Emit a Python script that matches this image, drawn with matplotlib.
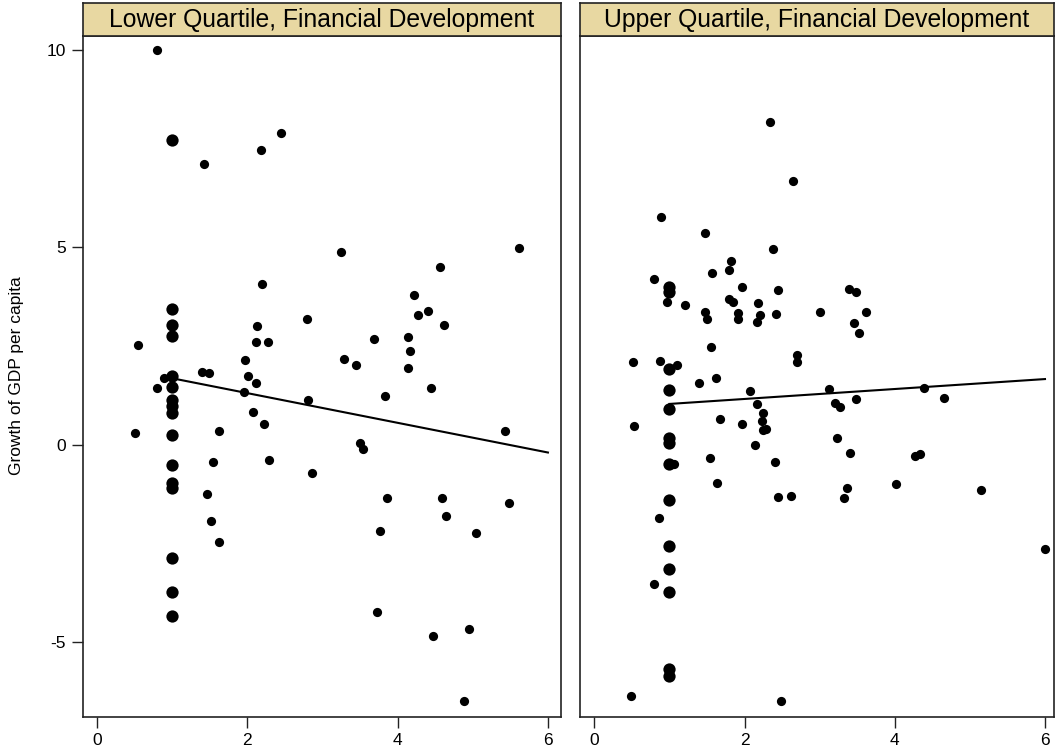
import numpy as np
import matplotlib
matplotlib.use("Agg")
import matplotlib.pyplot as plt

plt.rcParams['font.family'] = ['Liberation Sans', 'DejaVu Sans']
plt.rcParams['axes.unicode_minus'] = False

# panel titles / labels
titles = ["Lower Quartile, Financial Development", "Upper Quartile, Financial Development"]
ylabel = "Growth of GDP per capita"
xticks = [0, 2, 4, 6]
yticks = [-5, 0, 5, 10]

# lower quartile: scattered points
lower_x = [0.8, 2.45, 2.18, 1.43, 2.19, 0.54, 2.13, 2.8, 2.11, 2.28, 1.97, 1.40, 1.49, 2.01,
           3.25, 5.61, 4.56, 4.22, 4.41, 4.27, 4.62, 3.68, 4.14, 4.17, 3.29, 3.44, 4.14,
           0.89, 0.80, 0.50, 1.63, 1.55, 2.29, 2.86, 1.46, 1.52, 1.63, 2.12, 1.96, 2.08,
           2.22, 2.81, 4.44, 3.83, 5.43, 3.50, 3.54, 3.86, 4.59, 5.48, 4.65, 3.76, 5.04,
           3.73, 4.95, 4.47, 4.89]
lower_y = [10.0, 7.89, 7.45, 7.11, 4.07, 2.53, 3.0, 3.17, 2.61, 2.61, 2.15, 1.83, 1.81, 1.74,
           4.89, 4.99, 4.51, 3.78, 3.38, 3.27, 3.04, 2.67, 2.72, 2.37, 2.16, 2.02, 1.94,
           1.68, 1.43, 0.30, 0.34, -0.45, -0.38, -0.73, -1.26, -1.94, -2.46, 1.56, 1.32, 0.82,
           0.52, 1.14, 1.43, 1.22, 0.34, 0.04, -0.10, -1.36, -1.35, -1.49, -1.80, -2.20, -2.24,
           -4.23, -4.68, -4.84, -6.49]
# lower quartile: stacked observations at x = 1
lower_pile_y = [7.72, 3.43, 3.02, 2.75, 1.74, 1.47, 1.14, 0.97, 0.80, 0.25, -0.51, -0.98,
                -1.09, -2.86, -3.72, -4.33]
lower_fit_x = [1, 6]
lower_fit_y = [1.68, -0.20]

# upper quartile: scattered points
upper_x = [2.34, 2.64, 0.89, 1.48, 2.38, 1.82, 1.57, 1.79, 0.80, 1.97, 2.45, 3.0, 0.97, 1.21,
           1.80, 1.85, 2.18, 1.48, 1.50, 1.91, 1.91, 2.21, 2.17, 2.42, 1.55, 2.70, 2.70, 0.52,
           0.88, 1.10, 1.62, 3.39, 3.48, 3.62, 3.46, 3.52, 1.39, 2.07, 2.16, 0.53, 1.68, 1.96,
           2.24, 2.23, 2.24, 2.29, 2.14, 1.54, 2.40, 1.63, 2.44, 2.62, 0.86, 0.79, 0.49, 2.48,
           3.13, 4.39, 3.49, 4.65, 3.21, 3.27, 3.23, 3.41, 4.27, 4.34, 4.02, 3.36, 3.33, 5.15,
           6.0, 1.06]
upper_y = [8.16, 6.67, 5.77, 5.35, 4.96, 4.65, 4.35, 4.42, 4.19, 3.99, 3.91, 3.36, 3.62, 3.54,
           3.70, 3.61, 3.59, 3.36, 3.17, 3.33, 3.17, 3.28, 3.10, 3.30, 2.47, 2.27, 2.08, 2.10,
           2.13, 2.01, 1.68, 3.94, 3.86, 3.36, 3.07, 2.83, 1.56, 1.35, 1.02, 0.46, 0.66, 0.51,
           0.80, 0.61, 0.38, 0.40, 0.0, -0.35, -0.44, -0.98, -1.33, -1.29, -1.86, -3.53, -6.36,
           -6.48, 1.41, 1.44, 1.16, 1.19, 1.05, 0.94, 0.17, -0.20, -0.29, -0.24, -0.99, -1.09,
           -1.34, -1.14, -2.65, -0.50]
upper_pile_y = [4.0, 3.87, 1.91, 1.39, 0.90, 0.17, 0.03, -0.49, -1.39, -2.58, -3.16, -3.72,
                -5.68, -5.87]
upper_fit_x = [1, 6]
upper_fit_y = [1.03, 1.66]

panels = [(lower_x, lower_y, lower_pile_y, lower_fit_x, lower_fit_y),
          (upper_x, upper_y, upper_pile_y, upper_fit_x, upper_fit_y)]

W, H = 1055, 751
fig = plt.figure(figsize=(W / 100, H / 100), dpi=100)

# pixel boxes: (left, right)
boxes = [(82.7, 560.7), (580, 1054)]
top_px, bot_px, head_px = 35.5, 716.7, 3.0
xlims = [(-0.19, 6.17), (-0.19, 6.12)]
ylim = (-6.89, 10.36)

for i, (px, py, pile, fx, fy) in enumerate(panels):
    l, r = boxes[i]
    ax = fig.add_axes([l / W, 1 - bot_px / H, (r - l) / W, (bot_px - top_px) / H])
    ax.scatter(px, py, s=44, color='black', linewidths=0, zorder=3)
    ax.scatter(np.ones(len(pile)), pile, s=78, color='black', linewidths=0, zorder=3)
    ax.plot(fx, fy, color='black', lw=1.5, zorder=2)
    ax.set_xlim(*xlims[i])
    ax.set_ylim(*ylim)
    ax.set_xticks(xticks)
    ax.set_yticks(yticks)
    ax.tick_params(direction='out', length=8, width=1, labelsize=12.5, color='#222222', pad=4)
    for sp in ax.spines.values():
        sp.set_linewidth(1.2)
        sp.set_color('#222222')
    if i == 0:
        ax.set_ylabel(ylabel, fontsize=12.5, labelpad=16)
    else:
        ax.tick_params(axis='y', left=False, labelleft=False)

    hax = fig.add_axes([l / W, 1 - top_px / H, (r - l) / W, (top_px - head_px) / H])
    hax.set_facecolor('#E8D8A2')
    hax.set_xticks([])
    hax.set_yticks([])
    for sp in hax.spines.values():
        sp.set_linewidth(1.2)
        sp.set_color('#222222')
    hax.text(0.5, 0.47, titles[i], ha='center', va='center', fontsize=17.8,
             transform=hax.transAxes)

fig.savefig("out.png", dpi=100)
